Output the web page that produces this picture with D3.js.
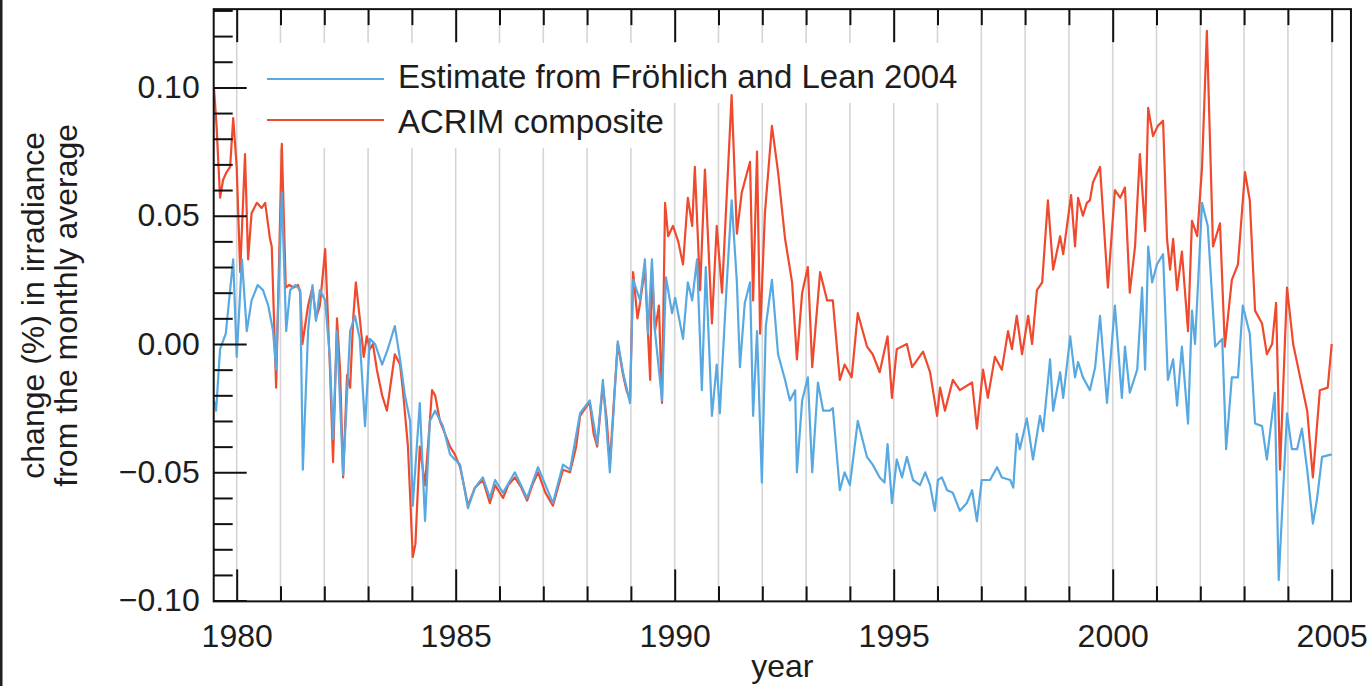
<!DOCTYPE html>
<html>
<head>
<meta charset="utf-8">
<script src="https://cdn.jsdelivr.net/npm/d3@7"></script>
<style>
  html, body { margin: 0; padding: 0; background: #fff; }
  svg { display: block; }
  text { font-family: "Liberation Sans", Arial, Helvetica, sans-serif; }
</style>
</head>
<body>
<svg id="chart" width="1372" height="686"></svg>
<script>
// legend / axis texts
const seriesNames = ["Estimate from Fröhlich and Lean 2004", "ACRIM composite"];
const yLabelLines = ["change (%) in irradiance", "from the monthly average"];
const xLabel = "year";
const majorYears = [1980, 1985, 1990, 1995, 2000, 2005];
const yTickValues = [-0.10, -0.05, 0.00, 0.05, 0.10];

// [year, change in %]
const froehlichLean = [
  [1979.48, -0.022], [1979.53, -0.026], [1979.62, -0.002], [1979.75, 0.004], [1979.92, 0.033],
  [1980.00, -0.005], [1980.12, 0.033], [1980.23, 0.005], [1980.34, 0.017], [1980.48, 0.023],
  [1980.60, 0.021], [1980.72, 0.015], [1980.83, 0.005], [1980.90, -0.010], [1981.03, 0.059],
  [1981.13, 0.005], [1981.22, 0.021], [1981.34, 0.023], [1981.45, 0.021], [1981.51, -0.049],
  [1981.63, 0.005], [1981.73, 0.023], [1981.81, 0.009], [1981.90, 0.021], [1982.02, 0.017],
  [1982.13, -0.006], [1982.20, -0.037], [1982.29, 0.005], [1982.43, -0.051], [1982.59, 0.005],
  [1982.70, 0.011], [1982.81, 0.002], [1982.93, -0.032], [1983.04, 0.002], [1983.16, 0.000],
  [1983.32, -0.008], [1983.45, -0.002], [1983.61, 0.007], [1983.73, -0.006], [1983.84, -0.020],
  [1983.96, -0.030], [1984.02, -0.063], [1984.18, -0.023], [1984.30, -0.069], [1984.41, -0.030],
  [1984.53, -0.026], [1984.71, -0.032], [1984.87, -0.043], [1984.98, -0.045], [1985.10, -0.047],
  [1985.28, -0.064], [1985.44, -0.056], [1985.62, -0.052], [1985.78, -0.060], [1985.90, -0.053],
  [1986.08, -0.058], [1986.35, -0.050], [1986.63, -0.060], [1986.88, -0.048], [1987.22, -0.062],
  [1987.45, -0.047], [1987.61, -0.049], [1987.84, -0.027], [1988.06, -0.022], [1988.23, -0.039],
  [1988.36, -0.014], [1988.52, -0.050], [1988.70, 0.001], [1988.82, -0.011], [1988.98, -0.023],
  [1989.05, 0.025], [1989.21, 0.017], [1989.32, 0.033], [1989.39, 0.004], [1989.48, 0.033],
  [1989.55, 0.005], [1989.71, -0.022], [1989.80, 0.026], [1989.94, 0.012], [1990.01, 0.018],
  [1990.19, 0.002], [1990.30, 0.024], [1990.40, 0.017], [1990.51, 0.033], [1990.62, -0.018],
  [1990.71, 0.030], [1990.85, -0.028], [1990.96, -0.008], [1991.03, -0.027], [1991.19, 0.024],
  [1991.30, 0.056], [1991.42, 0.024], [1991.49, -0.009], [1991.60, 0.016], [1991.72, 0.024],
  [1991.79, -0.028], [1991.88, 0.005], [1991.99, -0.054], [1992.08, 0.007], [1992.22, 0.025],
  [1992.36, -0.004], [1992.52, -0.014], [1992.63, -0.022], [1992.75, -0.018], [1992.79, -0.050],
  [1992.91, -0.022], [1993.04, -0.013], [1993.14, -0.050], [1993.27, -0.015], [1993.39, -0.026],
  [1993.54, -0.026], [1993.61, -0.025], [1993.77, -0.057], [1993.88, -0.050], [1994.00, -0.055],
  [1994.18, -0.030], [1994.39, -0.044], [1994.52, -0.047], [1994.68, -0.052], [1994.79, -0.054],
  [1994.86, -0.039], [1994.96, -0.062], [1995.07, -0.045], [1995.19, -0.052], [1995.30, -0.044],
  [1995.44, -0.053], [1995.60, -0.055], [1995.72, -0.050], [1995.83, -0.055], [1995.94, -0.065],
  [1996.01, -0.053], [1996.10, -0.052], [1996.22, -0.057], [1996.35, -0.058], [1996.51, -0.065],
  [1996.67, -0.062], [1996.79, -0.057], [1996.90, -0.069], [1997.01, -0.053], [1997.20, -0.053],
  [1997.36, -0.048], [1997.47, -0.052], [1997.66, -0.053], [1997.73, -0.056], [1997.81, -0.035],
  [1997.88, -0.041], [1998.04, -0.029], [1998.18, -0.045], [1998.34, -0.028], [1998.41, -0.034],
  [1998.57, -0.006], [1998.64, -0.026], [1998.80, -0.011], [1998.87, -0.021], [1999.03, 0.003],
  [1999.14, -0.013], [1999.21, -0.007], [1999.32, -0.013], [1999.48, -0.018], [1999.60, -0.009],
  [1999.71, 0.011], [1999.87, -0.023], [2000.05, 0.015], [2000.21, -0.021], [2000.28, -0.001],
  [2000.39, -0.019], [2000.56, -0.010], [2000.67, 0.022], [2000.74, -0.010], [2000.81, 0.038],
  [2000.90, 0.024], [2001.01, 0.031], [2001.15, 0.035], [2001.26, -0.014], [2001.38, -0.006],
  [2001.47, -0.024], [2001.58, -0.001], [2001.72, -0.031], [2001.81, 0.013], [2001.88, 0.000],
  [2002.04, 0.055], [2002.17, 0.046], [2002.34, -0.001], [2002.50, 0.002], [2002.59, -0.041],
  [2002.72, -0.013], [2002.86, -0.013], [2002.97, 0.015], [2003.13, 0.004], [2003.25, -0.031],
  [2003.41, -0.032], [2003.52, -0.045], [2003.70, -0.019], [2003.79, -0.092], [2003.98, -0.027],
  [2004.09, -0.041], [2004.21, -0.041], [2004.32, -0.033], [2004.44, -0.049], [2004.57, -0.070],
  [2004.66, -0.061], [2004.78, -0.044], [2005.00, -0.043]
];

const acrimComposite = [
  [1979.48, 0.100], [1979.54, 0.085], [1979.62, 0.057], [1979.69, 0.064], [1979.77, 0.067],
  [1979.85, 0.069], [1979.92, 0.088], [1980.00, 0.069], [1980.08, 0.028], [1980.19, 0.074],
  [1980.26, 0.033], [1980.34, 0.051], [1980.46, 0.055], [1980.57, 0.053], [1980.65, 0.055],
  [1980.76, 0.041], [1980.80, 0.038], [1980.90, -0.017], [1981.03, 0.078], [1981.12, 0.022],
  [1981.20, 0.023], [1981.30, 0.022], [1981.40, 0.023], [1981.45, 0.020], [1981.50, 0.000],
  [1981.63, 0.015], [1981.73, 0.022], [1981.81, 0.010], [1981.90, 0.015], [1982.02, 0.037],
  [1982.06, 0.020], [1982.13, -0.010], [1982.20, -0.046], [1982.29, 0.010], [1982.36, -0.010],
  [1982.43, -0.052], [1982.52, -0.012], [1982.59, -0.017], [1982.66, 0.010], [1982.72, 0.024],
  [1982.81, 0.010], [1982.90, -0.005], [1982.97, 0.003], [1983.04, -0.002], [1983.11, 0.000],
  [1983.20, -0.010], [1983.32, -0.020], [1983.43, -0.026], [1983.52, -0.015], [1983.61, -0.004],
  [1983.73, -0.008], [1983.80, -0.019], [1983.91, -0.040], [1984.02, -0.083], [1984.08, -0.078],
  [1984.18, -0.040], [1984.30, -0.055], [1984.41, -0.030], [1984.46, -0.018], [1984.53, -0.020],
  [1984.64, -0.030], [1984.71, -0.033], [1984.87, -0.040], [1984.98, -0.043], [1985.10, -0.048],
  [1985.20, -0.056], [1985.28, -0.063], [1985.44, -0.056], [1985.62, -0.053], [1985.78, -0.062],
  [1985.90, -0.055], [1986.08, -0.060], [1986.20, -0.055], [1986.35, -0.052], [1986.50, -0.056],
  [1986.63, -0.061], [1986.75, -0.055], [1986.88, -0.050], [1987.05, -0.058], [1987.22, -0.063],
  [1987.35, -0.055], [1987.45, -0.049], [1987.61, -0.050], [1987.75, -0.040], [1987.84, -0.028],
  [1988.00, -0.024], [1988.06, -0.023], [1988.15, -0.035], [1988.23, -0.040], [1988.36, -0.016],
  [1988.45, -0.030], [1988.52, -0.047], [1988.62, -0.020], [1988.70, 0.000], [1988.82, -0.012],
  [1988.90, -0.018], [1988.98, -0.022], [1989.05, 0.028], [1989.15, 0.010], [1989.21, 0.016],
  [1989.32, 0.030], [1989.39, 0.004], [1989.44, -0.014], [1989.48, 0.030], [1989.55, 0.005],
  [1989.64, 0.015], [1989.71, -0.023], [1989.78, 0.055], [1989.85, 0.042], [1989.96, 0.046],
  [1990.08, 0.040], [1990.19, 0.031], [1990.30, 0.057], [1990.40, 0.046], [1990.46, 0.069],
  [1990.58, 0.021], [1990.69, 0.068], [1990.85, 0.008], [1990.96, 0.046], [1991.08, 0.020],
  [1991.30, 0.097], [1991.42, 0.043], [1991.53, 0.059], [1991.72, 0.071], [1991.79, 0.017],
  [1991.88, 0.075], [1991.95, 0.004], [1992.06, 0.051], [1992.22, 0.085], [1992.36, 0.067],
  [1992.52, 0.041], [1992.68, 0.024], [1992.79, -0.006], [1992.91, 0.020], [1993.04, 0.030],
  [1993.14, -0.009], [1993.32, 0.028], [1993.48, 0.017], [1993.61, 0.017], [1993.77, -0.014],
  [1993.88, -0.008], [1994.04, -0.013], [1994.18, 0.012], [1994.39, -0.001], [1994.52, -0.004],
  [1994.68, -0.011], [1994.86, 0.003], [1994.96, -0.021], [1995.07, -0.002], [1995.30, 0.000],
  [1995.42, -0.009], [1995.67, -0.003], [1995.83, -0.011], [1995.99, -0.028], [1996.06, -0.017],
  [1996.17, -0.026], [1996.35, -0.014], [1996.51, -0.018], [1996.79, -0.015], [1996.90, -0.033],
  [1997.04, -0.010], [1997.15, -0.021], [1997.31, -0.005], [1997.47, -0.010], [1997.61, 0.005],
  [1997.70, -0.002], [1997.81, 0.011], [1997.93, -0.004], [1998.07, 0.011], [1998.16, 0.000],
  [1998.27, 0.021], [1998.39, 0.024], [1998.52, 0.056], [1998.64, 0.029], [1998.80, 0.042],
  [1998.87, 0.035], [1999.05, 0.058], [1999.14, 0.038], [1999.21, 0.057], [1999.32, 0.050],
  [1999.41, 0.055], [1999.48, 0.056], [1999.55, 0.063], [1999.71, 0.069], [1999.78, 0.051],
  [1999.89, 0.022], [2000.05, 0.060], [2000.17, 0.057], [2000.28, 0.061], [2000.39, 0.020],
  [2000.51, 0.038], [2000.62, 0.074], [2000.74, 0.044], [2000.81, 0.092], [2000.92, 0.081],
  [2001.03, 0.085], [2001.15, 0.087], [2001.24, 0.041], [2001.31, 0.029], [2001.38, 0.041],
  [2001.47, 0.021], [2001.58, 0.036], [2001.72, 0.005], [2001.81, 0.048], [2001.93, 0.042],
  [2002.04, 0.069], [2002.15, 0.122], [2002.29, 0.038], [2002.45, 0.047], [2002.56, -0.001],
  [2002.72, 0.025], [2002.86, 0.031], [2003.02, 0.067], [2003.13, 0.056], [2003.25, 0.013],
  [2003.41, 0.008], [2003.52, -0.004], [2003.64, 0.000], [2003.73, 0.016], [2003.82, -0.049],
  [2003.98, 0.022], [2004.12, 0.000], [2004.28, -0.013], [2004.44, -0.026], [2004.57, -0.052],
  [2004.73, -0.018], [2004.91, -0.017], [2005.00, 0.000]
];

const colors = { estimate: "#58a9e1", acrim: "#ef4a2d" };

const svg = d3.select("#chart");
const fontSize = 32;
const legendFontSize = 33;
const ink = "#1d1d1d";

const x = d3.scaleLinear().domain([1980, 2005]).range([236.7, 1331.7]);
const y = d3.scaleLinear().domain([-0.1, 0.1]).range([600.6, 87.4]);

const plotLeft = x(1979.475), plotRight = x(2005.44);
const plotTop = y(0.1305), plotBottom = y(-0.1003);

// thin dark strip on the left edge of the picture
svg.append("rect").attr("x", 0).attr("y", 0).attr("width", 2.5).attr("height", 686).attr("fill", "#231f1b");

// yearly grid lines
svg.append("g").selectAll("line")
  .data(d3.range(1980, 2006))
  .join("line")
  .attr("x1", d => x(d)).attr("x2", d => x(d))
  .attr("y1", plotTop).attr("y2", plotBottom)
  .attr("stroke", "#d5d5d5").attr("stroke-width", 1.6);

// legend, its white background masks the grid
const legend = svg.append("g");
const masks = legend.append("g");
const legendRows = [
  { name: seriesNames[0], color: colors.estimate, lineY: 79, baseY: 88 },
  { name: seriesNames[1], color: colors.acrim, lineY: 120, baseY: 133 }
];
legendRows.forEach(r => {
  legend.append("line")
    .attr("x1", 267).attr("x2", 384).attr("y1", r.lineY).attr("y2", r.lineY)
    .attr("stroke", r.color).attr("stroke-width", 2.2);
  const t = legend.append("text")
    .attr("x", 398).attr("y", r.baseY)
    .attr("font-size", legendFontSize).attr("fill", ink)
    .text(r.name);
  const w = t.node().getComputedTextLength();
  masks.append("rect")
    .attr("x", 260).attr("y", r.baseY - 45)
    .attr("width", 398 + w + 4 - 260).attr("height", 60)
    .attr("fill", "#fff");
});

// data lines
const line = d3.line().x(d => x(d[0])).y(d => y(d[1]));
svg.append("path").datum(acrimComposite)
  .attr("d", line).attr("fill", "none")
  .attr("stroke", colors.acrim).attr("stroke-width", 2.2).attr("stroke-linejoin", "round");
svg.append("path").datum(froehlichLean)
  .attr("d", line).attr("fill", "none")
  .attr("stroke", colors.estimate).attr("stroke-width", 2.2).attr("stroke-linejoin", "round");

// axes
function tidy(g) {
  g.select(".domain").remove();
  g.selectAll(".tick line").attr("stroke", "#111").attr("stroke-width", 2);
  g.attr("font-family", null).attr("font-size", fontSize).style("color", ink);
}

const minorYears = d3.range(1980, 2006).filter(d => d % 5 !== 0);
const yMinor = d3.range(-10, 14).filter(i => i % 5 !== 0).map(i => i / 100);

svg.append("g").attr("transform", `translate(0,${plotBottom})`)
  .call(d3.axisBottom(x).tickValues(minorYears).tickSize(-15).tickFormat("")).call(tidy);
svg.append("g").attr("transform", `translate(0,${plotBottom})`)
  .call(d3.axisBottom(x).tickValues(majorYears).tickSize(-32).tickPadding(23).tickFormat(d3.format("d"))).call(tidy);
svg.append("g").attr("transform", `translate(0,${plotTop})`)
  .call(d3.axisTop(x).tickValues(minorYears).tickSize(-16).tickFormat("")).call(tidy);
svg.append("g").attr("transform", `translate(0,${plotTop})`)
  .call(d3.axisTop(x).tickValues(majorYears).tickSize(-33).tickFormat("")).call(tidy);

svg.append("g").attr("transform", `translate(${plotLeft},0)`)
  .call(d3.axisLeft(y).tickValues(yMinor).tickSize(-19).tickFormat("")).call(tidy);
svg.append("g").attr("transform", `translate(${plotLeft},0)`)
  .call(d3.axisLeft(y).tickValues(yTickValues).tickSize(-33).tickPadding(14).tickFormat(d3.format(".2f"))).call(tidy);

// frame
svg.append("rect")
  .attr("x", plotLeft).attr("y", plotTop)
  .attr("width", plotRight - plotLeft).attr("height", plotBottom - plotTop)
  .attr("fill", "none").attr("stroke", "#111").attr("stroke-width", 2);

// axis titles
svg.append("text")
  .attr("x", (plotLeft + plotRight) / 2).attr("y", 677)
  .attr("text-anchor", "middle").attr("font-size", fontSize).attr("fill", ink)
  .text(xLabel);

const yTitle = svg.append("text")
  .attr("transform", `translate(0,${(plotTop + plotBottom) / 2}) rotate(-90)`)
  .attr("text-anchor", "middle").attr("font-size", fontSize).attr("fill", ink);
yLabelLines.forEach((s, i) => {
  yTitle.append("tspan").attr("x", 0).attr("y", 44 + i * 33).text(s);
});
</script>
</body>
</html>
